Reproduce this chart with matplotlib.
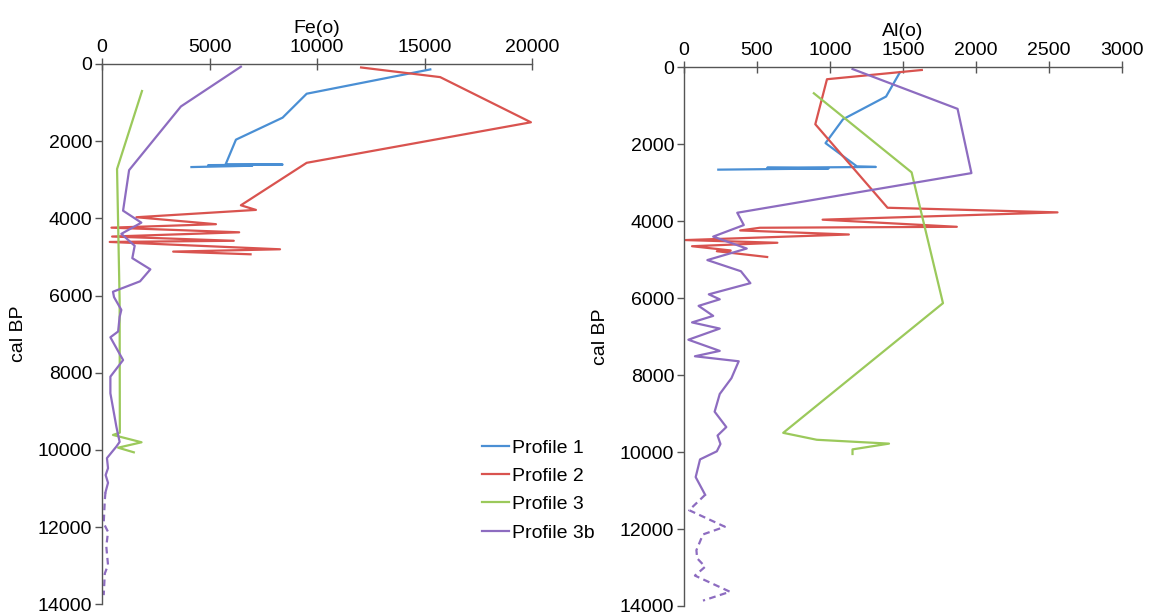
import matplotlib
matplotlib.use("Agg")
import matplotlib.pyplot as plt

plt.rcParams['font.family'] = ['Liberation Sans', 'DejaVu Sans']
plt.rcParams['font.size'] = 14

# === Data ===
# Fe(o) panel
fe_p1_age = [140, 770, 1390, 1960, 2600, 2605, 2620, 2635, 2670]
fe_p1_val = [15270, 9520, 8400, 6230, 5750, 8400, 4940, 6990, 4160]

fe_p2_age = [90, 340, 1510, 2560, 3660, 3780, 3970, 4150, 4240, 4360, 4470,
             4580, 4610, 4800, 4860, 4930]
fe_p2_val = [12050, 15730, 19950, 9520, 6460, 7160, 1600, 5300, 440, 6380, 470,
             6130, 360, 8280, 3310, 6910]

fe_p3_age = [700, 2720, 6130, 9550, 9610, 9800, 9940, 10060]
fe_p3_val = [1860, 700, 820, 830, 510, 1840, 750, 1480]

fe_p3b_age = [70, 1100, 2750, 3800, 4110, 4400, 4710, 5030, 5320, 5630, 5900,
              6040, 6370, 6550, 6930, 7080, 7670, 8100, 8530, 9400, 9790, 9910,
              10210, 10470, 10650, 10850, 11100]
fe_p3b_val = [6460, 3670, 1260, 980, 1830, 900, 1520, 1410, 2250, 1770, 510,
              560, 900, 820, 750, 390, 980, 390, 390, 670, 820, 670,
              230, 280, 170, 280, 160]
fe_p3b_dash_age = [11100, 11300, 11900, 12120, 12500, 12980, 13200, 13760]
fe_p3b_dash_val = [160, 130, 80, 280, 200, 280, 130, 80]

# Al(o) panel
al_p1_age = [130, 760, 1350, 1970, 2575, 2590, 2610, 2630, 2660]
al_p1_val = [1480, 1385, 1090, 970, 1185, 1315, 570, 990, 235]

al_p2_age = [70, 310, 1480, 3650, 3770, 3960, 4145, 4170, 4240, 4345, 4490,
             4560, 4650, 4760, 4780, 4930]
al_p2_val = [1630, 980, 900, 1395, 2560, 950, 1870, 520, 385, 1130, 10,
             640, 55, 320, 225, 570]

al_p3_age = [675, 2730, 6130, 9500, 9680, 9780, 9930, 10050]
al_p3_val = [890, 1560, 1775, 680, 910, 1405, 1155, 1155]

al_p3b_age = [45, 1080, 2750, 3780, 4100, 4400, 4710, 5010, 5300, 5610, 5900,
              6030, 6200, 6460, 6630, 6790, 7080, 7370, 7510, 7640, 8080, 8490,
              8950, 9350, 9570, 9790, 9980, 10190, 10650, 11110]
al_p3b_val = [1155, 1875, 1970, 365, 410, 200, 430, 160, 390, 455, 170,
              245, 100, 200, 55, 245, 30, 245, 75, 375, 325, 245,
              210, 290, 230, 250, 225, 110, 80, 145]
al_p3b_dash_age = [11110, 11510, 11940, 12140, 12550, 12760, 12980, 13210, 13630, 13860]
al_p3b_dash_val = [145, 35, 280, 130, 85, 90, 145, 75, 315, 130]

colors = {'Profile 1': '#4A8FD4', 'Profile 2': '#D9534F',
          'Profile 3': '#9BC95B', 'Profile 3b': '#8D6CC0'}

# === Plotting ===
fig = plt.figure(figsize=(11.52, 6.12), dpi=100)
ax1 = fig.add_axes([102 / 1152, 1 - 604.4 / 612, 430 / 1152, 540.4 / 612])
ax2 = fig.add_axes([684 / 1152, 1 - 606 / 612, 437.7 / 1152, 538.7 / 612])

lw = 1.6
panels = [
    (ax1, 'Fe(o)', 20000, 5000,
     [(fe_p1_val, fe_p1_age), (fe_p2_val, fe_p2_age), (fe_p3_val, fe_p3_age),
      (fe_p3b_val, fe_p3b_age)], (fe_p3b_dash_val, fe_p3b_dash_age)),
    (ax2, 'Al(o)', 3000, 500,
     [(al_p1_val, al_p1_age), (al_p2_val, al_p2_age), (al_p3_val, al_p3_age),
      (al_p3b_val, al_p3b_age)], (al_p3b_dash_val, al_p3b_dash_age)),
]

for ax, title, xmax, xstep, series, dashed in panels:
    for (vals, ages), name in zip(series, colors):
        ax.plot(vals, ages, color=colors[name], lw=lw, label=name)
    # older part of profile 3b drawn dashed
    ax.plot(dashed[0], dashed[1], color=colors['Profile 3b'], lw=lw,
            linestyle=(0, (3, 2)))

    ax.set_xlim(0, xmax)
    ax.set_ylim(14000, 0)
    ax.set_xticks(range(0, xmax + 1, xstep))
    ax.set_yticks(range(0, 14001, 2000))
    ax.xaxis.tick_top()
    ax.xaxis.set_label_position('top')
    ax.set_xlabel(title, labelpad=4)
    ax.set_ylabel('cal BP', labelpad=8)
    for side in ['right', 'bottom']:
        ax.spines[side].set_visible(False)
    for side in ['left', 'top']:
        ax.spines[side].set_color('#555555')
        ax.spines[side].set_linewidth(1.0)
    ax.tick_params(axis='x', direction='inout', length=8, width=1.0,
                   color='#555555', pad=2)
    ax.tick_params(axis='y', direction='out', length=5, width=1.0,
                   color='#555555', pad=2)
    for line in ax.get_lines():
        line.set_clip_on(False)

ax1.legend(loc='upper left', bbox_to_anchor=(482 / 1152, 1 - 439 / 612),
           bbox_transform=fig.transFigure, frameon=False, handlelength=1.4,
           handletextpad=0.15, labelspacing=0.55, borderpad=0,
           borderaxespad=0)

fig.savefig('out.png', dpi=100, facecolor='white')
